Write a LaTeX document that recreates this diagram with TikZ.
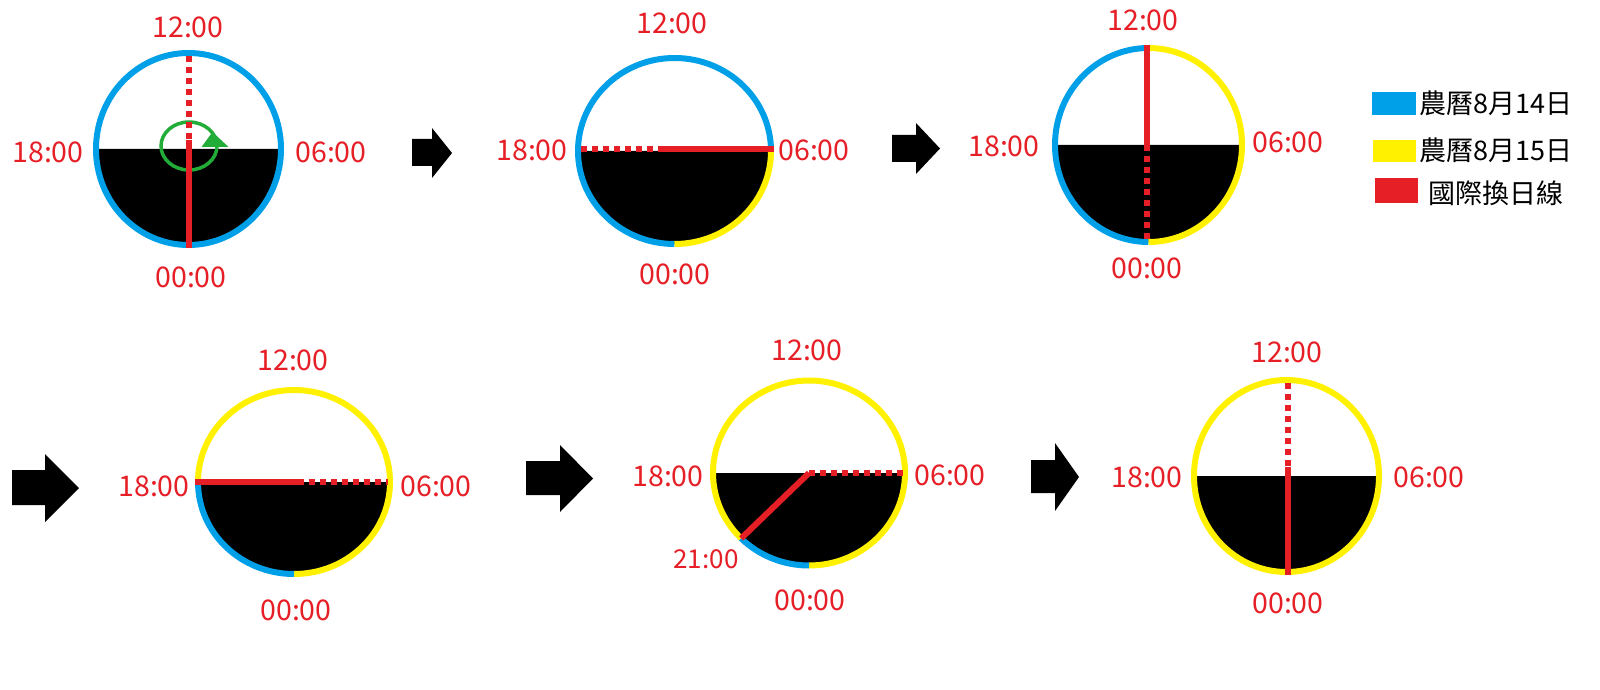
\documentclass[tikz,border=0pt]{standalone}
\usepackage{fontspec}
\newfontfamily\cjk{Noto Sans CJK TC}
\definecolor{lblue}{RGB}{0,160,233}
\definecolor{lyellow}{RGB}{255,241,0}
\definecolor{lred}{RGB}{230,30,38}
\definecolor{lgreen}{RGB}{34,172,56}
\newcommand\blockarrow[7]{\fill[black] (#1,#5) -- (#2,#5) -- (#2,#4) -- (#3,{(#4+#7)/2}) -- (#2,#7) -- (#2,#6) -- (#1,#6) -- cycle;}
\tikzset{
  ring/.style={line width=6pt, line cap=butt},
  idl/.style={draw=lred, line width=6pt, line cap=butt},
  idldash/.style={idl, dash pattern=on 6pt off 5pt},
  lbl/.style={text=lred, inner sep=0pt, font=\cjk\fontsize{28.5}{32}\selectfont},
  smalllbl/.style={text=lred, inner sep=0pt, font=\cjk\fontsize{26}{30}\selectfont},
  legtext/.style={text=black, inner sep=0pt, anchor=west, font=\cjk\fontsize{27}{31}\selectfont}
}
\begin{document}
\begin{tikzpicture}[x=1pt,y=1pt]
\useasboundingbox (0,0) rectangle (1600,689);
\fill[white] (0,0) rectangle (1600,689);

% ---------- Clock 1 ----------
\begin{scope}[shift={(188.5,540)}]
  \coordinate (a1) at (0,0);
  \fill[black] (-92.5,0) arc[start angle=180,end angle=360,x radius=92.5,y radius=96] -- cycle;
  \draw[ring,lblue] (a1) ellipse[x radius=92.5,y radius=96];
  \draw[lgreen,line width=3.5pt] (0.5,3) ellipse[x radius=28,y radius=24];
  \fill[lgreen] (13,2) -- (40,2) -- (24,17) -- cycle;
  \coordinate (a1t) at (0.5,93);
  \coordinate (a1m) at (0.5,9);
  \coordinate (a1b) at (0.5,-99);
  \draw[idldash] (a1t) -- (a1m);
  \draw[idl] (a1m) -- (a1b);
\end{scope}
\node[lbl] (a1n) at (188,662) {12:00};
\node[lbl] (a1w) at (48,537) {18:00};
\node[lbl] (a1e) at (331,537) {06:00};
\node[lbl] (a1s) at (191,412) {00:00};

\blockarrow{412}{432}{452}{561}{550}{523}{511}

% ---------- Clock 2 ----------
\begin{scope}[shift={(674.5,538)}]
  \coordinate (a2) at (0,0);
  \fill[black] (-96.5,0) arc[start angle=180,end angle=360,x radius=96.5,y radius=93] -- cycle;
  \draw[ring,lblue] (96.5,0) arc[start angle=0,end angle=270,x radius=96.5,y radius=93];
  \draw[ring,lyellow] (0,-93) arc[start angle=270,end angle=360,x radius=96.5,y radius=93];
  \coordinate (a2l) at (-93.5,2);
  \coordinate (a2m) at (-11.5,2);
  \coordinate (a2r) at (99.5,2);
  \draw[idldash] (a2l) -- (a2m);
  \draw[idl] (a2m) -- (a2r);
\end{scope}
\node[lbl] (a2n) at (672,666) {12:00};
\node[lbl] (a2w) at (532,539) {18:00};
\node[lbl] (a2e) at (814,539) {06:00};
\node[lbl] (a2s) at (675,415) {00:00};

\blockarrow{892}{916}{940}{566}{554}{527}{515}

% ---------- Clock 3 ----------
\begin{scope}[shift={(1148.5,544)}]
  \coordinate (a3) at (0,0);
  \fill[black] (-93.5,0) arc[start angle=180,end angle=360,x radius=93.5,y radius=97] -- cycle;
  \draw[ring,lblue] (0,97) arc[start angle=90,end angle=270,x radius=93.5,y radius=97];
  \draw[ring,lyellow] (0,-97) arc[start angle=-90,end angle=90,x radius=93.5,y radius=97];
  \coordinate (a3t) at (-2,100);
  \coordinate (a3m) at (-2,0);
  \coordinate (a3b) at (-2,-94);
  \draw[idl] (a3t) -- (a3m);
  \draw[idldash] (a3m) -- (a3b);
\end{scope}
\node[lbl] (a3n) at (1143,669) {12:00};
\node[lbl] (a3w) at (1004,543) {18:00};
\node[lbl] (a3e) at (1288,547) {06:00};
\node[lbl] (a3s) at (1147,421) {00:00};

% ---------- Legend ----------
\fill[lblue] (1372,574) rectangle (1416,597);
\fill[lyellow] (1373,527) rectangle (1416,549);
\fill[lred] (1375,486) rectangle (1418,511);
\node[legtext] (l1) at (1419,586) {農曆8月14日};
\node[legtext] (l2) at (1419,539) {農曆8月15日};
\node[legtext] (l3) at (1428,496) {國際換日線};

% ---------- Clock 4 ----------
\blockarrow{12}{45}{79}{235}{219}{184}{167}
\begin{scope}[shift={(294,207)}]
  \coordinate (b1) at (0,0);
  \fill[black] (-96,0) arc[start angle=180,end angle=360,x radius=96,y radius=92] -- cycle;
  \draw[ring,lyellow] (0,-92) arc[start angle=-90,end angle=180,x radius=96,y radius=92];
  \draw[ring,lblue] (-96,0) arc[start angle=180,end angle=270,x radius=96,y radius=92];
  \coordinate (b1l) at (-99,0);
  \coordinate (b1m) at (4,0);
  \coordinate (b1r) at (94,0);
  \draw[idl] (b1l) -- (b1m);
  \draw[idldash] (b1m) -- (b1r);
\end{scope}
\node[lbl] (b1n) at (293,329) {12:00};
\node[lbl] (b1w) at (154,203) {18:00};
\node[lbl] (b1e) at (436,203) {06:00};
\node[lbl] (b1s) at (296,79) {00:00};

% ---------- Clock 5 ----------
\blockarrow{526}{560}{593}{244}{228}{194}{177}
\begin{scope}[shift={(809,216)}]
  \coordinate (b2) at (0,0);
  \fill[black] (-96,0) arc[start angle=180,end angle=360,x radius=96,y radius=92.5] -- cycle;
  \draw[ring,lyellow] (0,-92.5) arc[start angle=-90,end angle=225,x radius=96,y radius=92.5];
  \draw[ring,lblue] (225:96 and 92.5) arc[start angle=225,end angle=270,x radius=96,y radius=92.5];
  \coordinate (b2m) at (0,0);
  \coordinate (b2d) at (225:96 and 92.5);
  \coordinate (b2r) at (94,0);
  \draw[idl] (b2m) -- (b2d);
  \draw[idldash] (b2m) -- (b2r);
\end{scope}
\node[lbl] (b2n) at (807,339) {12:00};
\node[lbl] (b2w) at (668,213) {18:00};
\node[lbl] (b2e) at (950,214) {06:00};
\node[lbl] (b2s) at (810,89) {00:00};
\node[smalllbl] (b2x) at (706,130) {21:00};

% ---------- Clock 6 ----------
\blockarrow{1031}{1055}{1079}{246}{229}{196}{178}
\begin{scope}[shift={(1286.5,213)}]
  \coordinate (b3) at (0,0);
  \fill[black] (-92.5,0) arc[start angle=180,end angle=360,x radius=92.5,y radius=96] -- cycle;
  \draw[ring,lyellow] (b3) ellipse[x radius=92.5,y radius=96];
  \coordinate (b3t) at (1.5,93);
  \coordinate (b3m) at (1.5,9);
  \coordinate (b3b) at (1.5,-99);
  \draw[idldash] (b3t) -- (b3m);
  \draw[idl] (b3m) -- (b3b);
\end{scope}
\node[lbl] (b3n) at (1287,337) {12:00};
\node[lbl] (b3w) at (1147,212) {18:00};
\node[lbl] (b3e) at (1429,212) {06:00};
\node[lbl] (b3s) at (1288,86) {00:00};
\end{tikzpicture}
\end{document}
